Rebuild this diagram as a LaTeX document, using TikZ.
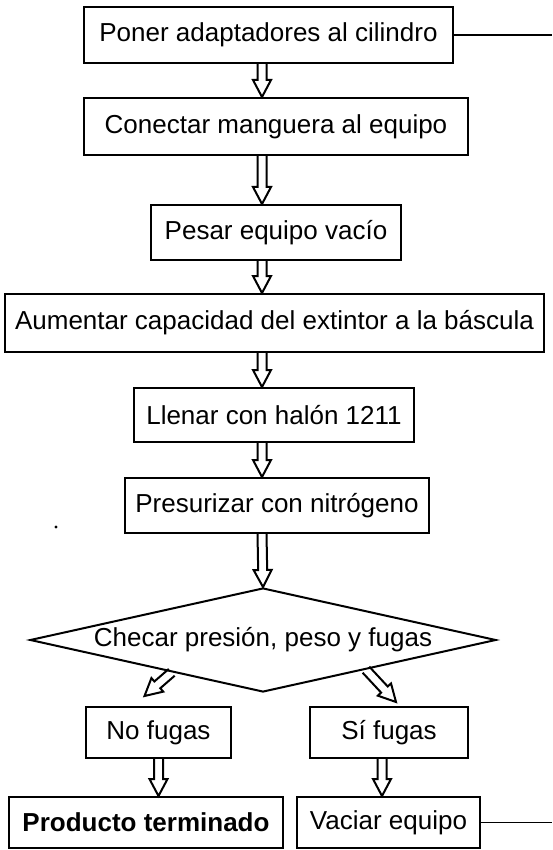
\documentclass[tikz,border=0pt]{standalone}
\usepackage{fontspec}
\setmainfont{Liberation Sans}
\usetikzlibrary{shapes.geometric, calc}

% hollow block arrow from #1 to #2
\newcommand{\flecha}[2]{%
  \path (#1) coordinate (fA) (#2) coordinate (fB);
  \path ($(fB)!17pt!(fA)$) coordinate (fC);
  \draw[hueca] ($(fA)!4.5pt!90:(fB)$) -- ($(fC)!4.5pt!-90:(fA)$) -- ($(fC)!9pt!-90:(fA)$)
    -- (fB) -- ($(fC)!9pt!90:(fA)$) -- ($(fC)!4.5pt!90:(fA)$) -- ($(fA)!4.5pt!-90:(fB)$);}

\begin{document}
\begin{tikzpicture}[
    x=1pt, y=-1pt,
    font=\fontsize{26}{30}\selectfont,
    caja/.style={draw, line width=2pt, inner sep=0pt, align=center},
    rombo/.style={diamond, draw, line width=2pt, inner sep=0pt, aspect=4.5,
                  minimum width=466pt, minimum height=104pt},
    hueca/.style={draw, line width=2pt, line join=miter},
    linea/.style={draw, line width=1.6pt},
  ]
  \useasboundingbox (0,0) rectangle (552,850);
  \coordinate (eje) at (262,0);
  \coordinate (borde) at (552,0);

  \node[caja, minimum width=369pt, minimum height=56pt] (b1) at (268.5,35)  {Poner adaptadores al cilindro};
  \node[caja, minimum width=384pt, minimum height=57pt] (b2) at (276,126.5) {Conectar manguera al equipo};
  \node[caja, minimum width=250pt, minimum height=55pt] (b3) at (276,232.5) {Pesar equipo vacío};
  \node[caja, minimum width=539pt, minimum height=58pt] (b4) at (274.5,323) {Aumentar capacidad del extintor a la báscula};
  \node[caja, minimum width=280pt, minimum height=54pt] (b5) at (274,415)   {Llenar con halón 1211};
  \node[caja, minimum width=304pt, minimum height=55pt] (b6) at (277,505.5) {Presurizar con nitrógeno};
  \node[rombo] (chk) at (263,640) {Checar presión, peso y fugas};
  \node[caja, minimum width=145pt, minimum height=51pt] (nf)  at (158.5,732.5) {No fugas};
  \node[caja, minimum width=158pt, minimum height=51pt] (sf)  at (389,732.5)   {Sí fugas};
  \node[caja, minimum width=274pt, minimum height=51pt] (pt)  at (146,822.5)   {\bfseries Producto terminado};
  \node[caja, minimum width=183pt, minimum height=51pt] (vac) at (388.5,822.5) {Vaciar equipo};

  \flecha{b1.south -| eje}{b2.north -| eje}
  \flecha{b2.south -| eje}{b3.north -| eje}
  \flecha{b3.south -| eje}{b4.north -| eje}
  \flecha{b4.south -| eje}{b5.north -| eje}
  \flecha{b5.south -| eje}{b6.north -| eje}
  \flecha{b6.south -| eje}{chk.north}
  \flecha{$(chk.west)!0.61!(chk.south)$}{$(nf.north)+(-14,-10)$}
  \flecha{$(chk.south)!0.44!(chk.east)$}{$(sf.north)+(7,-4)$}
  \flecha{nf.south}{nf.south |- pt.north}
  \flecha{$(sf.south)+(-7,0)$}{$(sf.south |- vac.north)+(-7,0)$}

  % loose ends to the right margin
  \draw[linea] (b1.east) -- (b1.east -| borde);
  \draw[linea] (vac.east) -- (vac.east -| borde);

  \fill (56,527) circle (1.6pt);
\end{tikzpicture}
\end{document}
